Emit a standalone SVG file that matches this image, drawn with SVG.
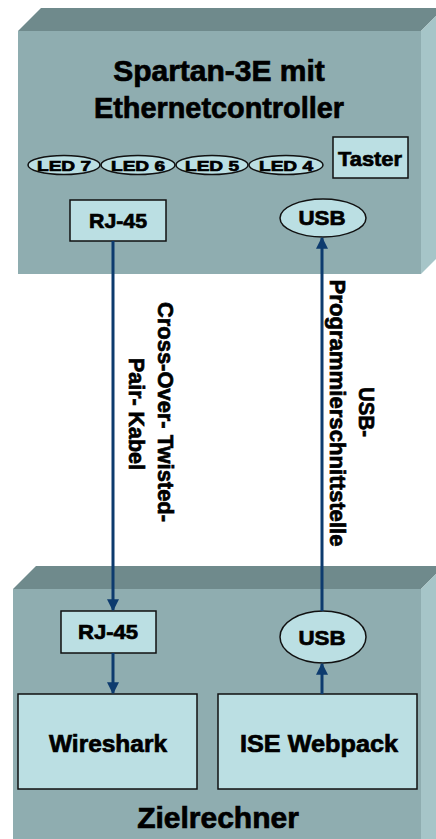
<svg xmlns="http://www.w3.org/2000/svg" width="436" height="839" viewBox="0 0 436 839">
<style>
.front{fill:#8fadb0}
.top{fill:#6f8a8c}
.side{fill:#a6c5c8}
.inner{fill:#bbdfe3;stroke:#111;stroke-width:1.5}
.t{font-family:"Liberation Sans",Arial,sans-serif;font-weight:bold;fill:#000;stroke:#000;stroke-width:0.7;text-anchor:middle}
.conn{stroke:#0d3b6e;stroke-width:3;fill:none}
</style>
<defs>
<marker id="ah" viewBox="0 0 10 10" refX="9" refY="5" markerWidth="4" markerHeight="4" orient="auto" markerUnits="strokeWidth">
<path d="M0,0 L10,5 L0,10 z" fill="#0d3b6e"/>
</marker>
</defs>
<rect width="436" height="839" fill="#fff"/>

<g id="spartan">
<polygon class="top" points="18,31 41,8 444,8 421,31"/>
<polygon class="side" points="421,31 444,8 444,251 421,274"/>
<rect class="front" x="18" y="31" width="403" height="243"/>
<text class="t" x="219" y="81" font-size="30">Spartan-3E mit</text>
<text class="t" x="219" y="118" font-size="30" textLength="250" lengthAdjust="spacingAndGlyphs">Ethernetcontroller</text>
</g>

<g id="led7"><ellipse class="inner" cx="64" cy="165" rx="36" ry="9.5"/><text class="t" x="64" y="171" font-size="15" textLength="54" lengthAdjust="spacingAndGlyphs">LED 7</text></g>
<g id="led6"><ellipse class="inner" cx="138" cy="165" rx="37" ry="9.5"/><text class="t" x="138" y="171" font-size="15" textLength="54" lengthAdjust="spacingAndGlyphs">LED 6</text></g>
<g id="led5"><ellipse class="inner" cx="212" cy="165" rx="36" ry="9.5"/><text class="t" x="212" y="171" font-size="15" textLength="54" lengthAdjust="spacingAndGlyphs">LED 5</text></g>
<g id="led4"><ellipse class="inner" cx="286" cy="165" rx="37" ry="9.5"/><text class="t" x="286" y="171" font-size="15" textLength="54" lengthAdjust="spacingAndGlyphs">LED 4</text></g>
<g id="taster"><rect class="inner" x="333" y="137" width="75" height="41"/><text class="t" x="370" y="166" font-size="21" textLength="64" lengthAdjust="spacingAndGlyphs">Taster</text></g>
<g id="rj45-top"><rect class="inner" x="70" y="200" width="96" height="41"/><text class="t" x="118" y="228" font-size="20" textLength="58" lengthAdjust="spacingAndGlyphs">RJ-45</text></g>
<g id="usb-top"><ellipse class="inner" cx="323" cy="218" rx="43" ry="19"/><text class="t" x="322" y="225" font-size="21" textLength="47" lengthAdjust="spacingAndGlyphs">USB</text></g>

<g id="zielrechner">
<polygon class="top" points="13,589 36,566 444,566 421,589"/>
<polygon class="side" points="421,589 444,566 444,839 421,839"/>
<rect class="front" x="13" y="589" width="408" height="250"/>
<text class="t" x="218" y="828" font-size="30">Zielrechner</text>
</g>

<g id="rj45-bottom"><rect class="inner" x="61" y="611" width="95" height="42"/><text class="t" x="108" y="639" font-size="20" textLength="60" lengthAdjust="spacingAndGlyphs">RJ-45</text></g>
<g id="usb-bottom"><ellipse class="inner" cx="323" cy="637" rx="43" ry="26"/><text class="t" x="322" y="645" font-size="21" textLength="47" lengthAdjust="spacingAndGlyphs">USB</text></g>
<g id="wireshark"><rect class="inner" x="18" y="694" width="179" height="95"/><text class="t" x="108" y="752" font-size="24" textLength="118" lengthAdjust="spacingAndGlyphs">Wireshark</text></g>
<g id="ise"><rect class="inner" x="218" y="694" width="199" height="95"/><text class="t" x="319" y="752" font-size="24" textLength="158" lengthAdjust="spacingAndGlyphs">ISE Webpack</text></g>

<g id="connectors">
<line class="conn" x1="113" y1="241" x2="113" y2="610" marker-end="url(#ah)"/>
<line class="conn" x1="113" y1="653" x2="113" y2="693" marker-end="url(#ah)"/>
<line class="conn" x1="322" y1="611" x2="322" y2="238" marker-end="url(#ah)"/>
<line class="conn" x1="322" y1="694" x2="322" y2="664" marker-end="url(#ah)"/>
<g transform="translate(158,412) rotate(90)">
<text class="t" x="0" y="0" font-size="22" textLength="220" lengthAdjust="spacingAndGlyphs">Cross-Over- Twisted-</text>
<text class="t" x="2" y="29" font-size="22" textLength="112" lengthAdjust="spacingAndGlyphs">Pair- Kabel</text>
</g>
<g transform="translate(359,412) rotate(90)">
<text class="t" x="0" y="0" font-size="22" textLength="50" lengthAdjust="spacingAndGlyphs">USB-</text>
<text class="t" x="1" y="29" font-size="22" textLength="267" lengthAdjust="spacingAndGlyphs">Programmierschnittstelle</text>
</g>
</g>
</svg>
